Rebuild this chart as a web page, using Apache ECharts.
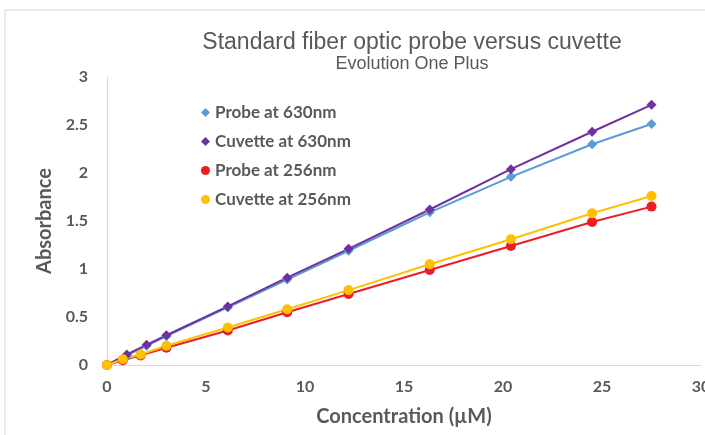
<!DOCTYPE html>
<html>
<head>
<meta charset="utf-8">
<script src="https://cdn.jsdelivr.net/npm/echarts@6/dist/echarts.min.js"></script>
<style>
  html, body { margin: 0; padding: 0; background: #fff; }
  #container { width: 705px; height: 435px; }
</style>
</head>
<body>
<div id="container"></div>
<script>
// concentrations (µM)
var conc630 = [0, 1.0, 2.0, 3.0, 6.1, 9.1, 12.2, 16.3, 20.4, 24.5, 27.5];
var conc256 = [0, 0.8, 1.7, 3.0, 6.1, 9.1, 12.2, 16.3, 20.4, 24.5, 27.5];

// absorbance
var probe630 = [0, 0.10, 0.20, 0.30, 0.60, 0.89, 1.19, 1.59, 1.96, 2.30, 2.51];
var cuvette630 = [0, 0.11, 0.21, 0.31, 0.61, 0.91, 1.21, 1.62, 2.04, 2.43, 2.71];
var probe256 = [0, 0.05, 0.10, 0.18, 0.36, 0.55, 0.74, 0.99, 1.24, 1.49, 1.65];
var cuvette256 = [0, 0.06, 0.11, 0.20, 0.39, 0.58, 0.78, 1.05, 1.31, 1.58, 1.76];

var seriesNames = ['Probe at 630nm', 'Cuvette at 630nm', 'Probe at 256nm', 'Cuvette at 256nm'];
var seriesColors = ['#5B9BD5', '#7030A0', '#EE1C25', '#FFC000'];
var seriesSymbols = ['diamond', 'diamond', 'circle', 'circle'];

var xTicks = { min: 0, max: 30, interval: 5 };
var yTicks = { min: 0, max: 3, interval: 0.5 };

function pairs(xs, ys) {
    return xs.map(function (x, i) { return [x, ys[i]]; });
}

var seriesData = [
    pairs(conc630, probe630),
    pairs(conc630, cuvette630),
    pairs(conc256, probe256),
    pairs(conc256, cuvette256)
];

var chart = echarts.init(document.getElementById('container'));

var textGray = '#595959';
var labelFont = 'Lato, "Open Sans", sans-serif';
var titleFont = '"Liberation Sans", Arial, sans-serif';

var option = {
    animation: false,
    backgroundColor: '#fff',
    graphic: [{
        type: 'rect',
        shape: { x: 5, y: 10, width: 760, height: 500 },
        style: { fill: 'none', stroke: '#d9d9d9', lineWidth: 1 },
        silent: true
    }],
    title: [{
        text: 'Standard fiber optic probe versus cuvette',
        left: 407,
        top: 26,
        textAlign: 'center',
        textStyle: { fontFamily: titleFont, fontSize: 23, fontWeight: 'normal', color: textGray }
    }, {
        text: 'Evolution One Plus',
        left: 407,
        top: 50,
        textAlign: 'center',
        textStyle: { fontFamily: titleFont, fontSize: 18, fontWeight: 'normal', color: textGray }
    }],
    legend: {
        orient: 'vertical',
        left: 196,
        top: 99,
        itemGap: 12,
        itemWidth: 9,
        itemHeight: 9,
        textStyle: { fontFamily: labelFont, fontSize: 17, fontWeight: 'bold', color: textGray },
        data: seriesNames.map(function (n, i) { return { name: n, icon: seriesSymbols[i] }; })
    },
    grid: { left: 107, right: 4, top: 77, bottom: 70, outerBoundsMode: 'none' },
    xAxis: {
        type: 'value',
        min: xTicks.min, max: xTicks.max, interval: xTicks.interval,
        name: 'Concentration (µM)',
        nameLocation: 'middle',
        nameGap: 42,
        nameTextStyle: { fontFamily: labelFont, fontSize: 20, fontWeight: 'bold', color: textGray },
        axisLine: { show: true, lineStyle: { color: '#d9d9d9', width: 1 } },
        axisTick: { show: false },
        splitLine: { show: false },
        axisLabel: { margin: 14, fontFamily: labelFont, fontSize: 16, fontWeight: 'bold', color: textGray }
    },
    yAxis: {
        type: 'value',
        min: yTicks.min, max: yTicks.max, interval: yTicks.interval,
        name: 'Absorbance',
        nameLocation: 'middle',
        nameGap: 50,
        nameTextStyle: { fontFamily: labelFont, fontSize: 20, fontWeight: 'bold', color: textGray },
        axisLine: { show: true, lineStyle: { color: '#d9d9d9', width: 1 } },
        axisTick: { show: false },
        splitLine: { show: false },
        axisLabel: { margin: 19, fontFamily: labelFont, fontSize: 16, fontWeight: 'bold', color: textGray }
    },
    series: seriesNames.map(function (n, i) {
        return {
            name: n,
            type: 'line',
            data: seriesData[i],
            symbol: seriesSymbols[i],
            symbolSize: 10,
            showAllSymbol: true,
            itemStyle: { color: seriesColors[i] },
            lineStyle: { color: seriesColors[i], width: 2 }
        };
    })
};

chart.setOption(option);
</script>
</body>
</html>
